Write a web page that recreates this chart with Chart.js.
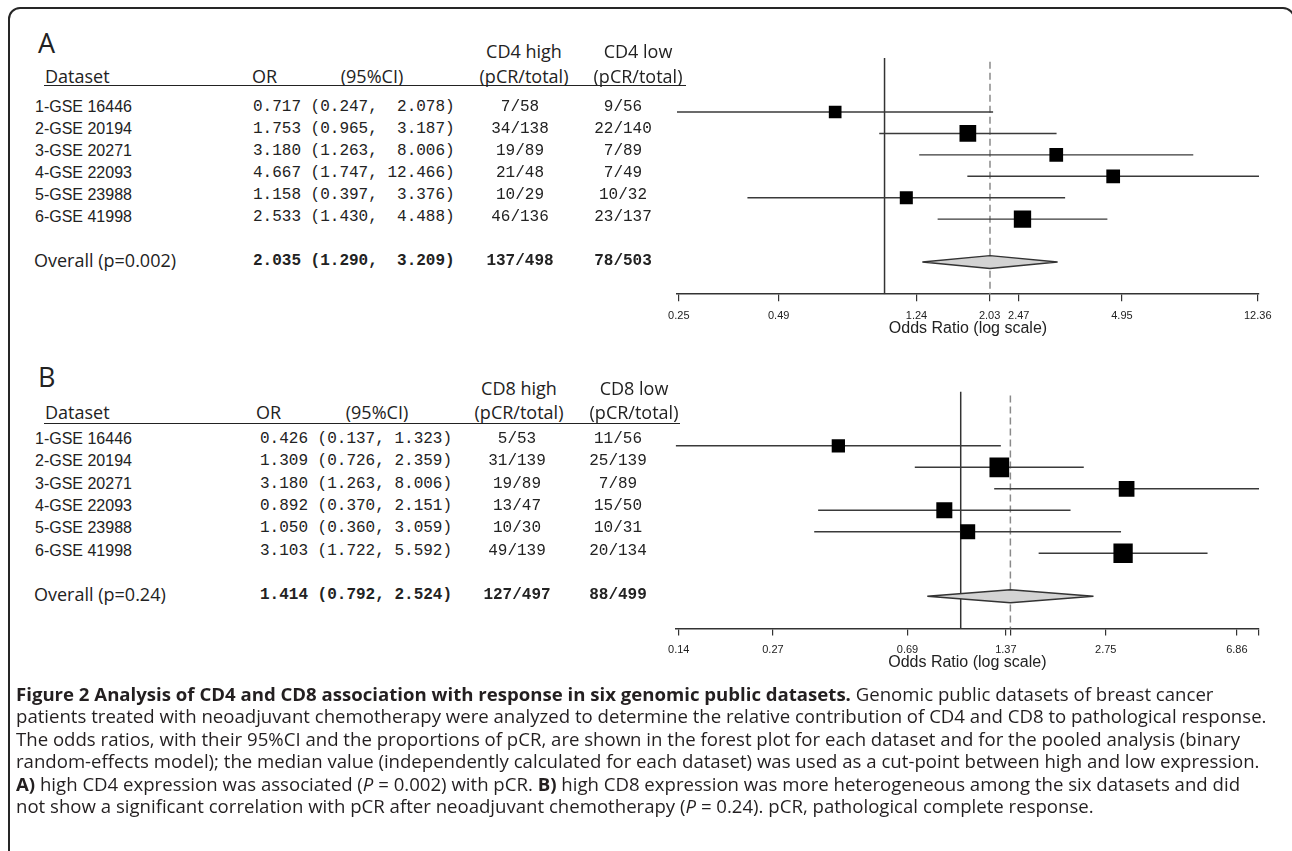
<!DOCTYPE html>
<html>
<head>
<meta charset="utf-8">
<script src="https://cdn.jsdelivr.net/npm/chart.js@4.4.1/dist/chart.umd.min.js"></script>
<style>
  html, body { margin: 0; padding: 0; background: #fff; }
  body { width: 1292px; height: 851px; position: relative; overflow: hidden; }
  .frame { position: absolute; left: 8px; top: 7px; width: 1287px; height: 900px;
           border: 2px solid #262626; border-radius: 12px; box-sizing: border-box; }
  .t { position: absolute; white-space: pre; color: #222; line-height: 1.3; transform: translateY(-50%); }
  .hd { font-family: 'Open Sans', sans-serif; font-size: 18px; }
  .nm { font-family: 'Liberation Sans', Arial, sans-serif; font-size: 16px; }
  .mono { font-family: 'Liberation Mono', monospace; font-size: 16px; }
  .bold { font-weight: bold; }
  .letter { font-family: 'Open Sans', sans-serif; font-size: 27px; }
  .rule { position: absolute; height: 0; border-top: 1.6px solid #222; }
  .chartbox { position: absolute; left: 660px; width: 632px; height: 320px; }
  .cap { position: absolute; left: 16px; white-space: nowrap; color: #231f20;
         font-family: 'Open Sans', sans-serif; font-size: 18.6px; line-height: 22.4px; }
  .cap b { font-weight: 700; }
</style>
</head>
<body>
<div class="frame"></div>
<div class="chartbox" style="top:44px"><canvas id="chartA"></canvas></div>
<div class="chartbox" style="top:376px"><canvas id="chartB"></canvas></div>

<div class="cap" style="top:683px">
<div><b>Figure 2 Analysis of CD4 and CD8 association with response in six genomic public datasets.</b> Genomic public datasets of breast cancer</div>
<div>patients treated with neoadjuvant chemotherapy were analyzed to determine the relative contribution of CD4 and CD8 to pathological response.</div>
<div>The odds ratios, with their 95%CI and the proportions of pCR, are shown in the forest plot for each dataset and for the pooled analysis (binary</div>
<div>random-effects model); the median value (independently calculated for each dataset) was used as a cut-point between high and low expression.</div>
<div><b>A)</b> high CD4 expression was associated (<i>P</i> = 0.002) with pCR. <b>B)</b> high CD8 expression was more heterogeneous among the six datasets and did</div>
<div>not show a significant correlation with pCR after neoadjuvant chemotherapy (<i>P</i> = 0.24). pCR, pathological complete response.</div>
</div>

<script>
// Datasets (same in both panels)
const datasetNames = ['1-GSE 16446', '2-GSE 20194', '3-GSE 20271', '4-GSE 22093', '5-GSE 23988', '6-GSE 41998'];

// Panel A: CD4
const orA = [0.717, 1.753, 3.180, 4.667, 1.158, 2.533];
const loA = [0.247, 0.965, 1.263, 1.747, 0.397, 1.430];
const hiA = [2.078, 3.187, 8.006, 12.466, 3.376, 4.488];
const pcrHighA = [7, 34, 19, 21, 10, 46];
const totHighA = [58, 138, 89, 48, 29, 136];
const pcrLowA = [9, 22, 7, 7, 10, 23];
const totLowA = [56, 140, 89, 49, 32, 137];
const weightA = [12.5, 21.7, 14.6, 14.6, 13.2, 23.3];   // study weight, %
const overallA = [2.035, 1.290, 3.209];                 // OR, lower, upper
const overallCountsA = [137, 498, 78, 503];
const pValueA = '0.002';
const tickValsA = [0.25, 0.49, 1.24, 2.03, 2.47, 4.95, 12.36];
const tickLabelsA = ['0.25', '0.49', '1.24', '2.03', '2.47', '4.95', '12.36'];

// Panel B: CD8
const orB = [0.426, 1.309, 3.180, 0.892, 1.050, 3.103];
const loB = [0.137, 0.726, 1.263, 0.370, 0.360, 1.722];
const hiB = [1.323, 2.359, 8.006, 2.151, 3.059, 5.592];
const pcrHighB = [5, 31, 19, 13, 10, 49];
const totHighB = [53, 139, 89, 47, 30, 139];
const pcrLowB = [11, 25, 7, 15, 10, 20];
const totLowB = [56, 139, 89, 50, 31, 134];
const weightB = [10.6, 23.3, 14.8, 15.4, 13.5, 22.4];
const overallB = [1.414, 0.792, 2.524];
const overallCountsB = [127, 497, 88, 499];
const pValueB = '0.24';
const tickValsB = [0.14, 0.27, 0.69, 1.37, 1.414, 2.75, 6.86, 8.006];
const tickLabelsB = ['0.14', '0.27', '0.69', '1.37', '', '2.75', '6.86', ''];

const OVERALL_ROW = 8;
const Y_MIN = -1.6, Y_MAX = 9.5;

// ---------- table text ----------
function put(cls, text, x, y, center) {
  const d = document.createElement('div');
  d.className = 't ' + cls;
  d.textContent = text;
  d.style.left = x + 'px';
  d.style.top = y + 'px';
  if (center) d.style.transform = 'translate(-50%,-50%)';
  document.body.appendChild(d);
}

function ciText(or, lo, hi, w) {
  return or.toFixed(3) + ' (' + lo.toFixed(3) + ', ' + hi.toFixed(3).padStart(w) + ')';
}

function buildTable(p) {
  const w = Math.max(...p.hi.concat([p.overall[2]]).map(v => v.toFixed(3).length));
  put('letter', p.letter, 38, p.letterY);
  put('hd', 'Dataset', 45, p.head2Y);
  put('hd', 'OR', p.orHeadX, p.head2Y);
  put('hd', '(95%CI)', p.ciHeadX, p.head2Y, true);
  put('hd', p.marker + ' high', p.highHeadX, p.head1Y, true);
  put('hd', '(pCR/total)', p.highHeadX, p.head2Y, true);
  put('hd', p.marker + ' low', p.lowHeadX, p.head1Y, true);
  put('hd', '(pCR/total)', p.lowHeadX, p.head2Y, true);
  const r = document.createElement('div');
  r.className = 'rule';
  r.style.left = '44px';
  r.style.width = (p.ruleEnd - 44) + 'px';
  r.style.top = p.ruleY + 'px';
  document.body.appendChild(r);

  datasetNames.forEach((name, i) => {
    const y = p.rowY0 + i * p.dy;
    put('nm', name, 35, y);
    put('mono', ciText(p.or[i], p.lo[i], p.hi[i], w), p.monoX, y);
    put('mono', p.pcrHigh[i] + '/' + p.totHigh[i], p.highX, y, true);
    put('mono', p.pcrLow[i] + '/' + p.totLow[i], p.lowX, y, true);
  });
  const yo = p.rowY0 + (OVERALL_ROW - 1) * p.dy;
  put('hd', 'Overall (p=' + p.pValue + ')', 34, yo);
  put('mono bold', ciText(p.overall[0], p.overall[1], p.overall[2], w), p.monoX, yo);
  put('mono bold', p.counts[0] + '/' + p.counts[1], p.highX, yo, true);
  put('mono bold', p.counts[2] + '/' + p.counts[3], p.lowX, yo, true);
}

// ---------- forest plot ----------
function forest(id, p) {
  const rows = p.or.map((_, i) => i + 1);
  const datasets = [];

  datasets.push({
    type: 'scatter',
    data: p.or.map((v, i) => ({ x: v, y: rows[i] })),
    pointStyle: 'rect',
    pointRadius: p.weight.map(w => p.boxScale * Math.sqrt(w) / (2 * Math.SQRT1_2)),
    backgroundColor: '#000',
    borderWidth: 0,
    order: 0
  });

  // pooled estimate diamond
  const [m, l, u] = p.overall;
  datasets.push({
    type: 'line',
    data: [
      { x: l, y: OVERALL_ROW }, { x: m, y: OVERALL_ROW - 0.3 },
      { x: u, y: OVERALL_ROW }, { x: m, y: OVERALL_ROW + 0.3 }, { x: l, y: OVERALL_ROW }
    ],
    fill: 'shape',
    backgroundColor: '#d3d3d3',
    borderColor: '#333',
    borderWidth: 1.4,
    pointRadius: 0,
    tension: 0,
    order: 1
  });

  // confidence intervals
  rows.forEach((r, i) => {
    datasets.push({
      type: 'line',
      data: [{ x: p.lo[i], y: r }, { x: p.hi[i], y: r }],
      borderColor: '#3a3a3a',
      borderWidth: 1.4,
      pointRadius: 0,
      fill: false,
      order: 2
    });
  });

  // reference lines: no effect (OR = 1) and pooled OR
  datasets.push({
    type: 'line',
    data: [{ x: 1, y: -1.52 }, { x: 1, y: Y_MAX }],
    borderColor: '#333',
    borderWidth: 1.5,
    pointRadius: 0,
    order: 3
  });
  datasets.push({
    type: 'line',
    data: [{ x: m, y: -1.34 }, { x: m, y: Y_MAX }],
    borderColor: '#8a8a8a',
    borderWidth: 1.5,
    borderDash: [7, 4],
    pointRadius: 0,
    order: 3
  });

  return new Chart(document.getElementById(id), {
    type: 'scatter',
    data: { datasets: datasets },
    options: {
      responsive: true,
      maintainAspectRatio: false,
      animation: false,
      events: [],
      layout: { padding: p.pad },
      plugins: { legend: { display: false }, tooltip: { enabled: false } },
      scales: {
        x: {
          type: 'logarithmic',
          bounds: 'data',
          min: Math.min(...p.lo),
          max: Math.max(...p.hi),
          afterBuildTicks: s => { s.ticks = p.tickVals.map(v => ({ value: v })); },
          afterFit: s => { s.height = p.axisH; },
          ticks: {
            autoSkip: false, maxRotation: 0, minRotation: 0, padding: 8,
            color: '#222',
            font: { family: 'Liberation Sans', size: 11 },
            callback: (v, i) => p.tickLabels[i]
          },
          grid: { drawOnChartArea: false, drawTicks: true, tickLength: 7, color: '#333', lineWidth: 1.2 },
          border: { display: true, color: '#333', width: 1.6 },
          title: {
            display: true,
            text: 'Odds Ratio (log scale)',
            color: '#222',
            font: { family: 'Liberation Sans', size: 16 },
            padding: { top: 0, bottom: p.titlePad }
          }
        },
        y: { type: 'linear', reverse: true, min: Y_MIN, max: Y_MAX, display: false }
      }
    }
  });
}

const panelA = {
  letter: 'A', marker: 'CD4', or: orA, lo: loA, hi: hiA,
  pcrHigh: pcrHighA, totHigh: totHighA, pcrLow: pcrLowA, totLow: totLowA,
  weight: weightA, overall: overallA, counts: overallCountsA, pValue: pValueA,
  tickVals: tickValsA, tickLabels: tickLabelsA,
  letterY: 42.5, head1Y: 52, head2Y: 77, ruleY: 85, ruleEnd: 686,
  rowY0: 106.7, dy: 22.06,
  orHeadX: 252, ciHeadX: 372, highHeadX: 524, lowHeadX: 638,
  monoX: 253, highX: 520, lowX: 623,
  boxScale: 3.59, pad: { top: 5.3, left: 17, right: 33, bottom: 0 }, axisH: 69.8, titlePad: 25.4
};
const panelB = {
  letter: 'B', marker: 'CD8', or: orB, lo: loB, hi: hiB,
  pcrHigh: pcrHighB, totHigh: totHighB, pcrLow: pcrLowB, totLow: totLowB,
  weight: weightB, overall: overallB, counts: overallCountsB, pValue: pValueB,
  tickVals: tickValsB, tickLabels: tickLabelsB,
  letterY: 377, head1Y: 389, head2Y: 413, ruleY: 422.7, ruleEnd: 680,
  rowY0: 439, dy: 22.3,
  orHeadX: 256, ciHeadX: 377, highHeadX: 519, lowHeadX: 634,
  monoX: 260, highX: 517, lowX: 618,
  boxScale: 4.08, pad: { top: 5, left: 13, right: 33, bottom: 0 }, axisH: 67.5, titlePad: 23.4
};

buildTable(panelA);
buildTable(panelB);
forest('chartA', panelA);
forest('chartB', panelB);
</script>
</body>
</html>
